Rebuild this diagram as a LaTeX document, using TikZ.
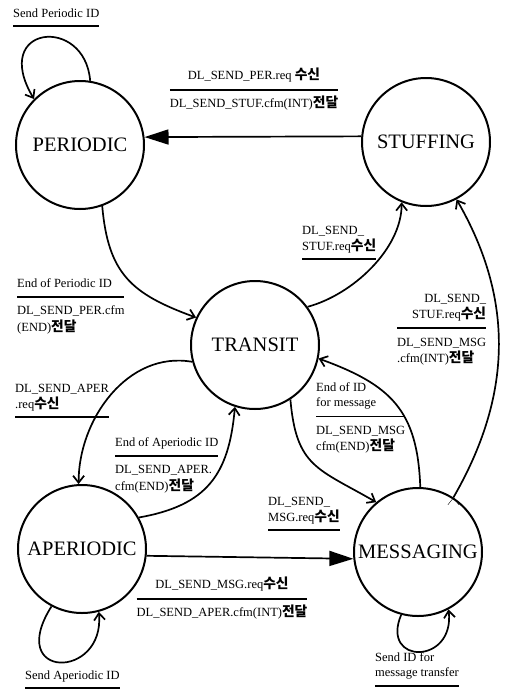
\documentclass[tikz,border=0pt]{standalone}
\usepackage{fontspec}
\setmainfont{Liberation Serif}
\newfontfamily\kr{Noto Sans CJK KR}[Scale=1.1]
\usepackage{tikz}
\usetikzlibrary{automata, positioning, arrows.meta}
\setlength{\arrayrulewidth}{1.8pt}
\newcommand{\ko}[1]{{\kr\bfseries #1}}
\newcommand{\evt}[3][l]{\begin{tabular}{@{}#1@{}}#2\rule[-9pt]{0pt}{9pt}\\\hline\rule{0pt}{17pt}#3\end{tabular}}
\newcommand{\evtin}[1]{\begin{tabular}{@{}l@{}}#1\rule[-9pt]{0pt}{9pt}\end{tabular}}
\tikzset{
	->, % makes the edges directed
	>={Straight Barb[length=7pt,width=11pt]}, % open arrow heads on the curves
	big/.style={-{Triangle[length=24pt,width=15pt]}}, % filled heads on the straight edges
	on grid, % distances are measured between centres
	wire/.style={line width=1.7pt},
	every edge/.style={draw, wire},
	every state/.style={circle, draw, line width=2pt, minimum size=128pt, inner sep=0pt, font=\fontsize{20.5}{24}\selectfont}, % sets the properties for each 'state' node
	lbl/.style={font=\fontsize{12.5}{15.5}\selectfont, inner sep=0pt, anchor=north west},
	under/.style={lbl, append after command={(\tikzlastnode.south west) edge[-, line width=2pt] (\tikzlastnode.south east)}}, % condition with no action
}
\begin{document}
\begin{tikzpicture}[x=1pt,y=1pt]
	\useasboundingbox (0,0) rectangle (504,-699);
			\node[state] (transit) at (255,-345) {TRANSIT};
			\node[state, above left=200pt and 175pt of transit] (periodic) {PERIODIC};
			\node[state, above right=203pt and 171pt of transit] (stuffing) {STUFFING};
			\node[state, below left=204pt and 173pt of transit] (aperiodic) {APERIODIC};
			\node[state, below right=207pt and 163pt of transit] (messaging) {MESSAGING};
	\draw 	(stuffing.175) edge[big] (periodic.7)
			(periodic.-70) edge[out=-85, in=160, looseness=1.2] (transit.155)
			(transit.195) edge[out=170, in=90] (aperiodic.93)
			(aperiodic.29) edge[out=10, in=-95, looseness=1.2] (transit.252)
			(aperiodic.-6) edge[big] (messaging.186)
			(transit.-57) edge[out=-85, in=150, looseness=1.3] (messaging.130)
			(messaging.88) edge[out=92, in=-20, looseness=1.2] (transit.-12)
			(transit.36) edge[out=15, in=-90, looseness=0.85] (stuffing.248)
			(messaging.57) edge[out=60, in=-60] (stuffing.-62);
	% self loops
	\draw[wire] (periodic.81) .. controls (85,-15) and (-10,-25) .. (periodic.135);
	\draw[wire] (aperiodic.-118) .. controls (5,-680) and (105,-680) .. (aperiodic.-75);
	\draw[wire] (messaging.-105) .. controls (380,-665) and (455,-665) .. (messaging.-62);
	% conditions and actions
	\node[under] (sendper) at (13,-6) {\evtin{Send Periodic ID}};
	\node[lbl, anchor=north] (perreq) at (254,-68) {\evt[c]{DL\_SEND\_PER.req \ko{수신}}{DL\_SEND\_STUF.cfm(INT)\ko{전달}}};
	\node[lbl] (perend) at (17,-276) {\evt{End of Periodic ID}{DL\_SEND\_PER.cfm\\(END)\ko{전달}}};
	\node[under] (aperreq) at (15,-381) {\evtin{DL\_SEND\_APER\\.req\ko{수신}}};
	\node[lbl] (aperend) at (115,-435) {\evt{End of Aperiodic ID}{DL\_SEND\_APER.\\cfm(END)\ko{전달}}};
	\node[lbl, anchor=north] (msgreq) at (222,-577) {\evt[c]{DL\_SEND\_MSG.req\ko{수신}}{DL\_SEND\_APER.cfm(INT)\ko{전달}}};
	\node[under] (tomsg) at (268,-494) {\evtin{DL\_SEND\_\\MSG.req\ko{수신}}};
	\node[lbl] (msgend) at (316,-380) {\evt{End of ID\\for message}{DL\_SEND\_MSG\\cfm(END)\ko{전달}}};
	\node[under] (stufreq) at (302,-223) {\evtin{DL\_SEND\_\\STUF.req\ko{수신}}};
	\node[lbl] (msgstuf) at (397,-291) {\evt{\hfill DL\_SEND\_\\\hfill STUF.req\ko{수신}}{DL\_SEND\_MSG\\.cfm(INT)\ko{전달}}};
	\node[under] (sendaper) at (25,-668) {\evtin{Send Aperiodic ID}};
	\node[under] (sendmsg) at (375,-650) {\evtin{Send ID for\\message transfer}};
	\end{tikzpicture}
\end{document}
